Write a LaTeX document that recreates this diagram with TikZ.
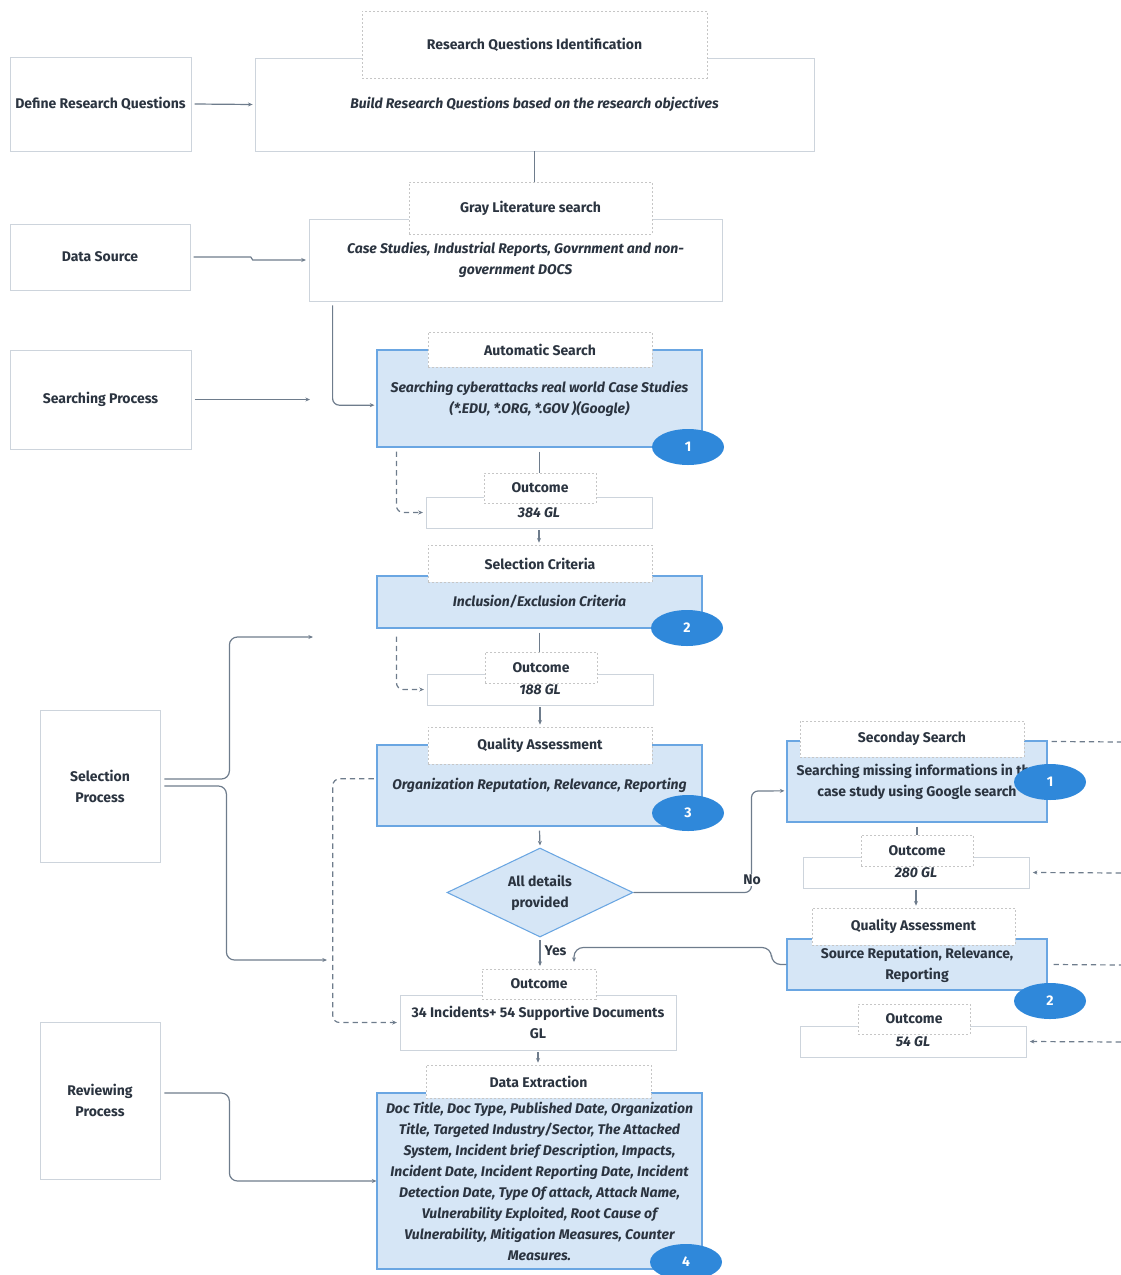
\documentclass[tikz,border=0pt]{standalone}
\usepackage{fontspec}
\setmainfont{Fira Sans}
\usetikzlibrary{shapes.geometric,arrows.meta,calc}
\definecolor{txt}{HTML}{2B3440}
\definecolor{conn}{HTML}{6E7C8C}
\definecolor{bfill}{HTML}{D6E6F6}
\definecolor{bdraw}{HTML}{6AA6E2}
\definecolor{ell}{HTML}{2F88DA}
\definecolor{gbord}{HTML}{CDD4DC}
\definecolor{tbord}{HTML}{C6C6C6}
\begin{document}
\begin{tikzpicture}[x=0.75pt,y=-0.75pt,
  font=\fontsize{10.5}{15.75}\selectfont\bfseries, text=txt,
  sz/.style 2 args={minimum width=#1*0.75pt, minimum height=#2*0.75pt},
  plain/.style={draw=gbord, fill=white, line width=0.6pt, inner sep=0pt, align=center},
  bluebox/.style={draw=bdraw, fill=bfill, line width=0.8pt, inner sep=0pt, align=center},
  ttl/.style={draw=tbord, fill=white, dash pattern=on 1.5pt off 1.5pt, line width=0.5pt, inner sep=0pt, align=center},
  num/.style={ellipse, fill=ell, text=white, minimum width=72*0.75pt, minimum height=36*0.75pt, inner sep=0pt},
  it/.style={font=\fontsize{10.5}{15.75}\selectfont\bfseries\itshape},
  conline/.style={draw=conn, line width=0.9pt},
  arr/.style={conline, -{Stealth[length=3.5pt,width=3pt]}},
  darr/.style={arr, dash pattern=on 4pt off 3pt},
  dline/.style={conline, dash pattern=on 4pt off 3pt},
  lbl/.style={fill=white, inner sep=1pt}
]
\useasboundingbox (0,0) rectangle (1121,1275);

% ---------- top ----------
\node[plain, sz={181}{94}] (drq) at (100.5,104) {Define Research Questions};
\node[plain, sz={559}{93}, it] (rq) at (534.5,104.5) {Build Research Questions based on the research objectives};
\node[ttl, sz={345}{67}] (rqt) at (534.5,44.5) {Research Questions Identification};

\node[plain, sz={180}{66}] (ds) at (100,257) {Data Source};
\node[plain, sz={413}{82}, it] (gl) at (515.5,260) {Case Studies, Industrial Reports, Govrnment and non-\\government DOCS};
\node[ttl, sz={243}{52}] (glt) at (530.5,208) {Gray Literature search};

\node[plain, sz={181}{99}] (sp) at (100.5,399.5) {Searching Process};
\node[bluebox, sz={325}{97}, it] (as) at (539.5,398.5) {Searching cyberattacks real world Case Studies\\(*.EDU, *.ORG, *.GOV )(Google)};
\node[ttl, sz={224}{35}] (ast) at (540,349.5) {Automatic Search};
\node[num] (e1) at (688,447) {1};

\node[plain, sz={226}{31}, it] (o1) at (539,512.5) {384 GL};
\node[ttl, sz={112}{30}] (o1t) at (540,488) {Outcome};

\node[bluebox, sz={325}{52}, it] (sc) at (539.5,602) {Inclusion/Exclusion Criteria};
\node[ttl, sz={224}{37}] (sct) at (540,563.5) {Selection Criteria};
\node[num] (e2) at (687,628) {2};

\node[plain, sz={226}{31}, it] (o2) at (540,689.5) {188 GL};
\node[ttl, sz={112}{31}] (o2t) at (541,667.5) {Outcome};

\node[bluebox, sz={325}{81}, it] (qa) at (539.5,785.5) {Organization Reputation, Relevance, Reporting};
\node[ttl, sz={224}{37}] (qat) at (540,745.5) {Quality Assessment};
\node[num] (e3) at (688,813) {3};

\node[diamond, aspect=2, draw=bdraw, fill=bfill, line width=0.8pt, inner sep=0pt,
      minimum width=186*0.75pt, minimum height=89*0.75pt, align=center] (dia) at (540,892.5) {All details\\provided};

\node[plain, sz={276}{55}] (o5) at (538,1022.5) {34 Incidents+ 54 Supportive Documents\\GL};
\node[ttl, sz={114}{30}] (o5t) at (539,984) {Outcome};

\node[bluebox, sz={325}{176}, it] (de) at (539.5,1181) {Doc Title, Doc Type, Published Date, Organization\\Title, Targeted Industry/Sector, The Attacked\\System, Incident brief Description, Impacts,\\Incident Date, Incident Reporting Date, Incident\\Detection Date, Type Of attack, Attack Name,\\Vulnerability Exploited, Root Cause of\\Vulnerability, Mitigation Measures, Counter\\Measures.};
\node[ttl, sz={225}{33}] (det) at (538.5,1081.5) {Data Extraction};
\node[num] (e6) at (686,1262) {4};

\node[plain, sz={120}{152}] (selp) at (100,786) {Selection\\Process};
\node[plain, sz={120}{157}] (revp) at (100,1100.5) {Reviewing\\Process};

% ---------- right column ----------
\node[bluebox, sz={260}{81}] (ss) at (917,781.5) {Searching missing informations in the\\case study using Google search};
\node[ttl, sz={224}{36}] (sst) at (912,739) {Seconday Search};
\node[num] (e4) at (1050,782) {1};

\node[plain, sz={226}{31}, it] (o3) at (916,872.5) {280 GL};
\node[ttl, sz={112}{31}] (o3t) at (917,850.5) {Outcome};

\node[bluebox, sz={260}{51}] (qa2) at (917,964.5) {Source Reputation, Relevance,\\Reporting};
\node[ttl, sz={203}{37}] (qa2t) at (913.5,926.5) {Quality Assessment};
\node[num] (e5) at (1050,1001) {2};

\node[plain, sz={226}{31}, it] (o4) at (913,1041.5) {54 GL};
\node[ttl, sz={112}{30}] (o4t) at (914,1019) {Outcome};

% free ends
\coordinate (spend) at (310,399.5);
\coordinate (sel1end) at (313,637);
\coordinate (sel2end) at (327,960);
\coordinate (r1) at (1121,742);
\coordinate (r2) at (1121,873);
\coordinate (r3) at (1121,965);
\coordinate (r4) at (1121,1042);

% ---------- connectors ----------
\draw[arr] ([xshift=2.5pt]drq.east) -- ([xshift=-1.5pt]rq.west);
\draw[conline] (rq.south) -- (rq.south |- glt.north);
\draw[arr] ([xshift=2.5pt]ds.east) -- ++(57,0) -- ++(2,3) -- ([xshift=-2pt]gl.west);
\draw[arr] ([xshift=2.5pt]sp.east) -- (spend);
\draw[arr, rounded corners=5pt] ([xshift=24*0.75pt,yshift=-3pt]gl.south west) |- ([xshift=-1.5pt,yshift=-5pt]as.west);

\draw[conline] ([yshift=-3pt]as.south) -- (as.south |- o1t.north);
\draw[darr, rounded corners=5pt] ([xshift=20*0.75pt,yshift=-3pt]as.south west) |- ([xshift=-2pt]o1.west);
\draw[arr] ([yshift=-1.5pt]o1.south) -- ([yshift=1.5pt]o1.south |- sct.north);

\draw[conline] ([yshift=-3pt]sc.south) -- (sc.south |- o2t.north);
\draw[darr, rounded corners=5pt] ([xshift=20*0.75pt,yshift=-6pt]sc.south west) |- ([xshift=-2pt]o2.west);
\draw[arr] ([yshift=-1.5pt]o2.south) -- ([yshift=1.5pt]o2.south |- qat.north);

\draw[arr] ([yshift=-3pt]qa.south) -- ([yshift=1.5pt]dia.north);
\draw[arr, rounded corners=5pt] (dia.east) -| ($(ss.west)+(-35,9.5)$) -- ([xshift=-1.5pt,yshift=-7pt]ss.west);
\node[lbl] (no) at (752,880) {No};
\draw[arr] ([yshift=-2pt]dia.south) -- ([yshift=2pt]dia.south |- o5t.north);
\node[inner sep=1pt, anchor=west] (yes) at (543,951) {Yes};
\draw[arr, rounded corners=7pt] (qa2.west) -- ++(-15,0) -- ++(0,-17) -| ([xshift=26.25pt,yshift=5pt]o5t.north);

\draw[arr, rounded corners=6pt] ([xshift=3pt,yshift=5.25pt]selp.east) -- ++(65,0) |- (sel1end);
\draw[arr, rounded corners=6pt] ([xshift=3pt]selp.east) -- ++(62,0) |- (sel2end);
\draw[darr, rounded corners=5pt] ([xshift=-2pt,yshift=5pt]qa.west) -- ++(-41,0) |- ([xshift=-2pt]o5.west);
\draw[arr] ([yshift=-1.5pt]o5.south) -- ([yshift=1.5pt]o5.south |- det.north);
\draw[arr, rounded corners=6pt] ([xshift=3pt,yshift=5.6pt]revp.east) -- ++(65,0) |- (de.west);

\draw[conline] ([yshift=-3pt]ss.south) -- (ss.south |- o3t.north);
\draw[arr] ([yshift=-1.5pt]o3.south) -- ([yshift=1.5pt]o3.south |- qa2t.north);
\draw[dline] ([xshift=3pt,yshift=-0.75pt]ss.north east) -- (r1);
\draw[darr] (r2) -- ([xshift=2.5pt]o3.east);
\draw[dline] ([xshift=4.5pt]qa2.east) -- (r3);
\draw[darr] (r4) -- ([xshift=2.5pt]o4.east);
\end{tikzpicture}
\end{document}
